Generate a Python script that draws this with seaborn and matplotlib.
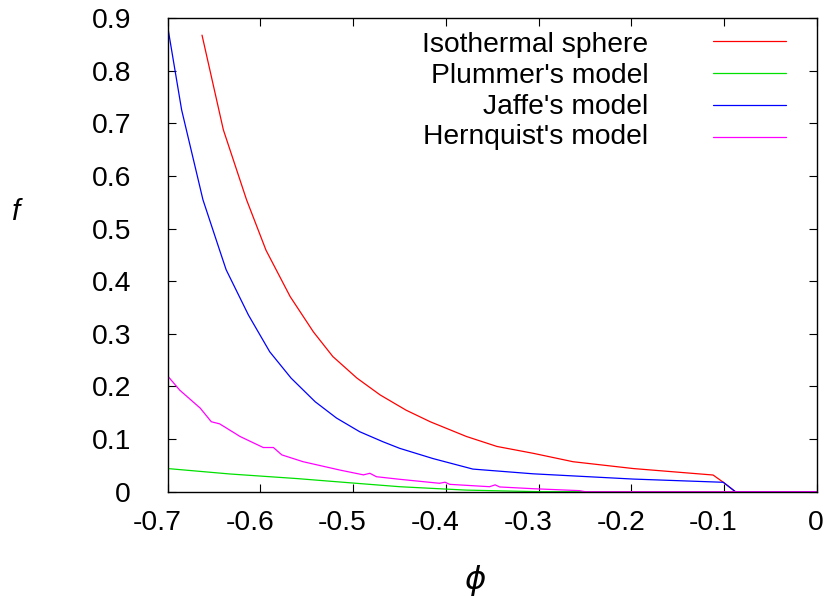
import matplotlib
matplotlib.use("Agg")
import matplotlib.pyplot as plt
import matplotlib.transforms as mtransforms
import seaborn as sns

# ---- data ----
iso_phi = [-0.663, -0.640, -0.615, -0.594, -0.568, -0.543, -0.522, -0.496, -0.471, -0.443,
           -0.417, -0.378, -0.345, -0.306, -0.263, -0.198, -0.112, -0.101, -0.088, 0.0]
iso_f = [0.868, 0.688, 0.555, 0.459, 0.371, 0.304, 0.257, 0.216, 0.184, 0.155,
         0.133, 0.105, 0.086, 0.073, 0.057, 0.044, 0.0317, 0.0179, 0.0, 0.0]

plummer_phi = [-0.700, -0.633, -0.561, -0.504, -0.450, -0.417, -0.378, -0.299, 0.0]
plummer_f = [0.044, 0.0337, 0.025, 0.017, 0.0095, 0.0065, 0.003, 0.0, 0.0]

jaffe_phi = [-0.700, -0.685, -0.662, -0.644, -0.637, -0.613, -0.590, -0.567, -0.541, -0.518,
             -0.493, -0.468, -0.450, -0.414, -0.371, -0.306, -0.198, -0.101, -0.088, 0.0]
jaffe_f = [0.884, 0.726, 0.555, 0.459, 0.422, 0.336, 0.266, 0.216, 0.171, 0.140,
           0.114, 0.095, 0.0825, 0.063, 0.043, 0.034, 0.024, 0.0179, 0.0, 0.0]

hern_phi = [-0.700, -0.687, -0.665, -0.653, -0.644, -0.622, -0.597, -0.586, -0.577, -0.554,
            -0.514, -0.489, -0.482, -0.475, -0.450, -0.407, -0.401, -0.396, -0.353, -0.347,
            -0.342, -0.306, -0.256, -0.250, 0.0]
hern_f = [0.220, 0.193, 0.159, 0.133, 0.129, 0.105, 0.084, 0.084, 0.070, 0.057,
          0.041, 0.032, 0.035, 0.0285, 0.0236, 0.016, 0.018, 0.014, 0.0095, 0.013,
          0.009, 0.0057, 0.002, 0.0, 0.0]

series_names = ["Isothermal sphere", "Plummer's model", "Jaffe's model", "Hernquist's model"]
series_colors = ["#ff0000", "#00e000", "#0000ff", "#ff00ff"]

x_ticks = [-0.7, -0.6, -0.5, -0.4, -0.3, -0.2, -0.1, 0.0]
x_tick_labels = ["-0.7", "-0.6", "-0.5", "-0.4", "-0.3", "-0.2", "-0.1", "0"]
y_ticks = [0.0, 0.1, 0.2, 0.3, 0.4, 0.5, 0.6, 0.7, 0.8, 0.9]
y_tick_labels = ["0", "0.1", "0.2", "0.3", "0.4", "0.5", "0.6", "0.7", "0.8", "0.9"]

# ---- style ----
sns.set_style("ticks")
plt.rcParams["font.family"] = ["Liberation Sans", "DejaVu Sans"]
plt.rcParams["mathtext.fontset"] = "dejavusans"
for k in ["text.color", "axes.labelcolor", "xtick.color", "ytick.color", "axes.edgecolor"]:
    plt.rcParams[k] = "black"
FS = 20.3

fig = plt.figure(figsize=(8.24, 5.96), dpi=100)
ax = fig.add_axes([167.7 / 824, 1 - 491.7 / 596, (817 - 167.7) / 824, (491.7 - 18.3) / 596])

xs = [iso_phi, plummer_phi, jaffe_phi, hern_phi]
ys = [iso_f, plummer_f, jaffe_f, hern_f]
for x, y, c in zip(xs, ys, series_colors):
    sns.lineplot(x=x, y=y, ax=ax, color=c, linewidth=0.9, estimator=None, sort=False)

ax.set_xlim(-0.7, 0.0)
ax.set_ylim(0.0, 0.9)

for s in ax.spines.values():
    s.set_visible(True)
    s.set_linewidth(1.0)
    s.set_color("black")

ax.set_xticks(x_ticks)
ax.set_xticklabels([])
ax.set_yticks(y_ticks)
ax.set_yticklabels(y_tick_labels)
ax.tick_params(axis="both", direction="in", length=5.6, width=0.8, top=True, right=True,
               colors="black", labelcolor="black")
ax.tick_params(axis="y", labelsize=FS, pad=26.5)

# x tick labels placed like the reference (gnuplot-style centring)
base = mtransforms.blended_transform_factory(ax.transData, ax.transAxes)
for v, lab in zip(x_ticks, x_tick_labels):
    tr = base + mtransforms.Affine2D().translate(-len(lab) * 8.75, -18.3)
    ax.text(v, 0.0, lab, transform=tr, ha="left", va="top", fontsize=FS, color="black",
            clip_on=False)

# axis labels
fig.text(16.5 / 824, 1 - 212 / 596, "f", fontsize=FS + 1, style="italic", ha="center",
         va="center", color="black")
fig.text(475 / 824, 1 - 580 / 596, r"$\phi$", fontsize=FS + 3, ha="center", va="center",
         color="black")

# key (gnuplot-style: right-aligned text, sample line to the right)
text_x = 0.7405
text_y = [0.9282, 0.8627, 0.7989, 0.7355]
line_y = [0.9521, 0.8851, 0.8168, 0.7499]
for name, c, ty, ly in zip(series_names, series_colors, text_y, line_y):
    ax.text(text_x, ty, name, transform=ax.transAxes, ha="right", va="baseline", fontsize=FS,
            color="black")
    ax.plot([0.8394, 0.9518], [ly, ly], transform=ax.transAxes, color=c, linewidth=0.9)

fig.savefig("out.png", dpi=100)
